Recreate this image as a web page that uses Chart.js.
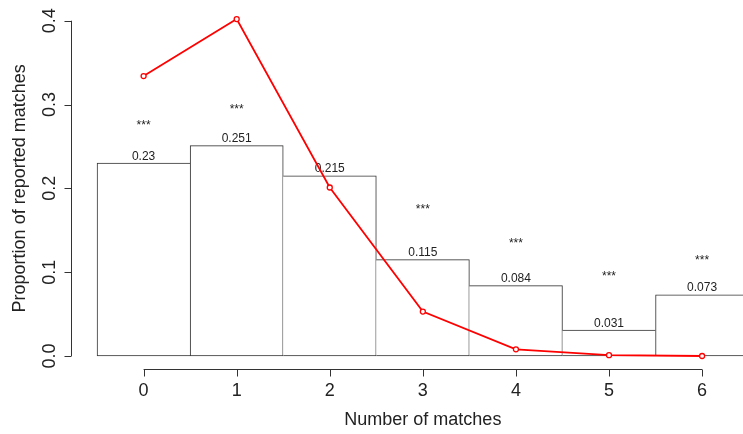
<!DOCTYPE html>
<html>
<head>
<meta charset="utf-8">
<script src="https://cdn.jsdelivr.net/npm/chart.js@4"></script>
<style>
  html, body { margin: 0; padding: 0; background: #fff; overflow: hidden; }
  #wrap { width: 743px; height: 434px; overflow: hidden; position: relative; }
  canvas { display: block; }
</style>
</head>
<body>
<div id="wrap"><canvas id="c" width="780" height="434"></canvas></div>
<script>
// Observed vs. expected distribution of the number of matches
const matchCounts   = [0, 1, 2, 3, 4, 5, 6];
const reportedShare = [0.23, 0.251, 0.215, 0.115, 0.084, 0.031, 0.073];
const expectedShare = [0.334, 0.402, 0.201, 0.053, 0.008, 0.001, 0.000];
// significance markers and the height (in proportion units) they sit at
const starText  = ['***', '***', '', '***', '***', '***', '***'];
const starLevel = [0.279, 0.298, null, 0.179, 0.138, 0.099, 0.118];
const yTicks      = [0, 0.1, 0.2, 0.3, 0.4];
const yTickLabels = ['0.0', '0.1', '0.2', '0.3', '0.4'];
const xTickLabels = ['0', '1', '2', '3', '4', '5', '6'];
const xTitle = 'Number of matches';
const yTitle = 'Proportion of reported matches';

const FONT = '"Liberation Sans", Arial, Helvetica, sans-serif';
const INK = '#222';

// adjacent bars share one edge: the taller of the two draws it
function barEdges(ctx) {
  const i = ctx.dataIndex;
  const v = reportedShare[i];
  const prev = i > 0 ? reportedShare[i - 1] : -1;
  const next = i < reportedShare.length - 1 ? reportedShare[i + 1] : -1;
  return { top: 1, bottom: 1, left: v >= prev ? 1 : 0, right: v > next ? 1 : 0 };
}

// value labels and significance stars above each bar (drawn under the red line)
const barNotes = {
  id: 'barNotes',
  afterDatasetDraw(chart, args) {
    if (args.index !== 0) return;
    const { ctx, scales: { x, y } } = chart;
    ctx.save();
    ctx.fillStyle = INK;
    ctx.textAlign = 'center';
    ctx.textBaseline = 'alphabetic';
    ctx.font = '12px ' + FONT;
    matchCounts.forEach((m, i) => {
      const px = x.getPixelForValue(m);
      ctx.fillText(String(reportedShare[i]), px, y.getPixelForValue(reportedShare[i]) - 3.5);
      if (starText[i] && starLevel[i] != null) {
        ctx.fillText(starText[i], px, y.getPixelForValue(starLevel[i]) + 7);
      }
    });
    ctx.restore();
  }
};

// base-graphics style axes: lines spanning only the tick range, outward ticks
const plainAxes = {
  id: 'plainAxes',
  afterDraw(chart) {
    const { ctx, chartArea: a, scales: { x, y } } = chart;
    ctx.save();
    ctx.strokeStyle = '#333';
    ctx.lineWidth = 1;
    ctx.fillStyle = INK;
    ctx.font = '18px ' + FONT;

    // y axis
    const ax = Math.round(a.left) + 0.5;
    ctx.beginPath();
    ctx.moveTo(ax, y.getPixelForValue(yTicks[0]));
    ctx.lineTo(ax, y.getPixelForValue(yTicks[yTicks.length - 1]));
    yTicks.forEach(v => {
      const py = Math.round(y.getPixelForValue(v)) + 0.5;
      ctx.moveTo(ax, py);
      ctx.lineTo(ax - 7, py);
    });
    ctx.stroke();
    ctx.textAlign = 'center';
    ctx.textBaseline = 'alphabetic';
    yTicks.forEach((v, i) => {
      ctx.save();
      ctx.translate(a.left - 16.5, y.getPixelForValue(v));
      ctx.rotate(-Math.PI / 2);
      ctx.fillText(yTickLabels[i], 0, 0);
      ctx.restore();
    });

    // x axis
    const ay = Math.round(a.bottom) + 0.5;
    ctx.beginPath();
    ctx.moveTo(x.getPixelForValue(matchCounts[0]), ay);
    ctx.lineTo(x.getPixelForValue(matchCounts[matchCounts.length - 1]), ay);
    matchCounts.forEach(m => {
      const px = Math.round(x.getPixelForValue(m)) + 0.5;
      ctx.moveTo(px, ay);
      ctx.lineTo(px, ay + 7);
    });
    ctx.stroke();
    matchCounts.forEach((m, i) => {
      ctx.fillText(xTickLabels[i], x.getPixelForValue(m), a.bottom + 26.5);
    });

    // titles
    ctx.fillText(xTitle, (a.left + a.right) / 2, a.bottom + 56);
    ctx.save();
    ctx.translate(25, (a.top + a.bottom) / 2);
    ctx.rotate(-Math.PI / 2);
    ctx.fillText(yTitle, 0, 0);
    ctx.restore();
    ctx.restore();
  }
};

new Chart(document.getElementById('c'), {
  data: {
    datasets: [
      {
        type: 'bar',
        order: 1,
        data: matchCounts.map((m, i) => ({ x: m, y: reportedShare[i] })),
        backgroundColor: '#ffffff',
        borderColor: '#333',
        borderWidth: barEdges,
        borderSkipped: false,
        barPercentage: 1,
        categoryPercentage: 1
      },
      {
        type: 'line',
        order: 0,
        data: matchCounts.map((m, i) => ({ x: m, y: expectedShare[i] })),
        borderColor: '#ff0000',
        borderWidth: 1.8,
        pointRadius: 2.5,
        pointBorderWidth: 1.3,
        pointBackgroundColor: '#ffffff',
        pointBorderColor: '#ff0000',
        tension: 0,
        clip: false
      }
    ]
  },
  options: {
    responsive: false,
    devicePixelRatio: 1,
    animation: false,
    events: [],
    layout: { padding: { left: 71, right: 5, top: 7.3, bottom: 64.6 } },
    scales: {
      x: {
        type: 'linear', min: -0.78, max: 6.78, display: false, offset: false,
        grid: { offset: false },
        ticks: { stepSize: 1, includeBounds: false }
      },
      y: { type: 'linear', min: -0.016, max: 0.416, display: false }
    },
    plugins: { legend: { display: false }, tooltip: { enabled: false } }
  },
  plugins: [barNotes, plainAxes]
});
</script>
</body>
</html>
